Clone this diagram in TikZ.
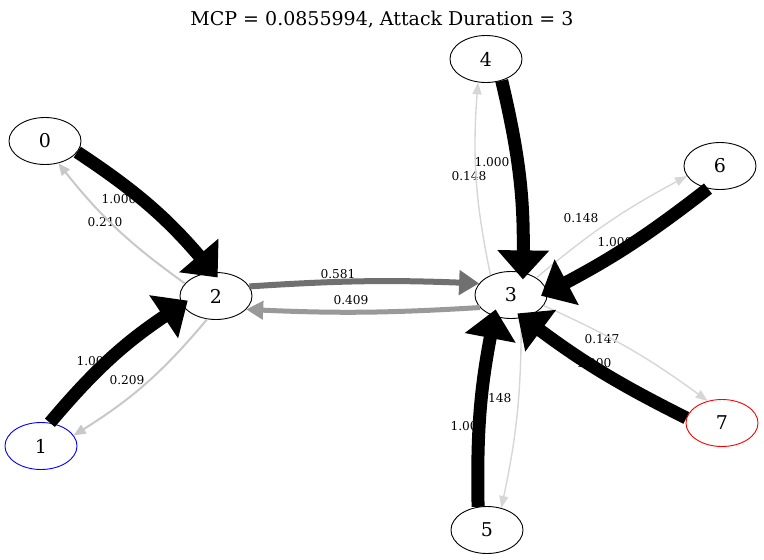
\documentclass[tikz,border=0pt]{standalone}
\usepackage{fontspec}
\setmainfont{DejaVu Serif}
\usetikzlibrary{shapes.geometric,arrows.meta}

\definecolor{midgray}{HTML}{707070}
\definecolor{softgray}{HTML}{999999}
\definecolor{palegray}{HTML}{C8C8C8}
\definecolor{fadegray}{HTML}{D6D6D6}

\begin{document}
\begin{tikzpicture}[x=1pt,y=-1pt,
  state node/.style={draw, ellipse, fill=white, line width=0.9pt, minimum width=72pt, minimum height=47pt, inner sep=0pt, font=\fontsize{19}{19}\selectfont},
  weight/.style={inner sep=0pt, font=\fontsize{12.2}{12.2}\selectfont},
  full edge/.style={line width=13pt, shorten >=-7pt, -{Triangle[length=29pt,width=50pt]}},
  mid edge/.style={midgray, line width=6pt, -{Triangle[length=20pt,width=24pt]}},
  soft edge/.style={softgray, line width=5pt, -{Triangle[length=17pt,width=18pt]}},
  pale edge/.style={palegray, line width=2pt, -{Triangle[length=12pt,width=10pt]}},
  fade edge/.style={fadegray, line width=1.4pt, -{Triangle[length=12pt,width=9pt]}}]
\useasboundingbox (0,0) rectangle (764,560);

\node (title) at (382,20) {\fontsize{19}{19}\selectfont MCP = 0.0855994, Attack Duration = 3};

\node[state node]           (0) at (45,141)  {0};
\node[state node, draw=blue] (1) at (41,446)  {1};
\node[state node]           (2) at (216,296) {2};
\node[state node]           (3) at (511,295) {3};
\node[state node]           (4) at (486,59)  {4};
\node[state node]           (5) at (487,530) {5};
\node[state node]           (6) at (720,166) {6};
\node[state node, draw=red]  (7) at (722,423) {7};

% weights
\node[weight] (w02) at (119,199) {1.000};
\node[weight] (w20) at (105,222) {0.210};
\node[weight] (w12) at (94,361)  {1.000};
\node[weight] (w21) at (127,380) {0.209};
\node[weight] (w23) at (338,274) {0.581};
\node[weight] (w32) at (351,300) {0.409};
\node[weight] (w43) at (492,162) {1.000};
\node[weight] (w34) at (469,176) {0.148};
\node[weight] (w36) at (581,218) {0.148};
\node[weight] (w63) at (615,242) {1.000};
\node[weight] (w37) at (602,339) {0.147};
\node[weight] (w73) at (594,363) {1.000};
\node[weight] (w35) at (494,398) {0.148};
\node[weight] (w53) at (468,426) {1.000};

\draw[pale edge] (2.158) to[bend left=8] (0.-59);
\draw[pale edge] (2.-111) to[bend left=9] (1.18);
\draw[fade edge] (3.136) to[bend left=8] (4.-109);
\draw[fade edge] (3.34) to[bend left=6] (6.-163);
\draw[fade edge] (3.-18) to[bend left=6] (7.123);
\draw[fade edge] (3.-66) to[bend left=6] (5.57);
\draw[mid edge] (2.16) to[bend left=3] (3.160);
\draw[soft edge] (3.-158) to[bend left=3] (2.-24);
\draw[full edge] (0.-19) to[bend left=8] (2.97);
\draw[full edge] (1.69) to[bend left=8] (2.-166);
\draw[full edge] (4.-54) to[bend left=7] (3.62);
\draw[full edge] (6.-118) to[bend left=5] (3.4);
\draw[full edge] (7.172) to[bend left=5] (3.-62);
\draw[full edge] (5.111) to[bend left=6] (3.-128);
\end{tikzpicture}
\end{document}
